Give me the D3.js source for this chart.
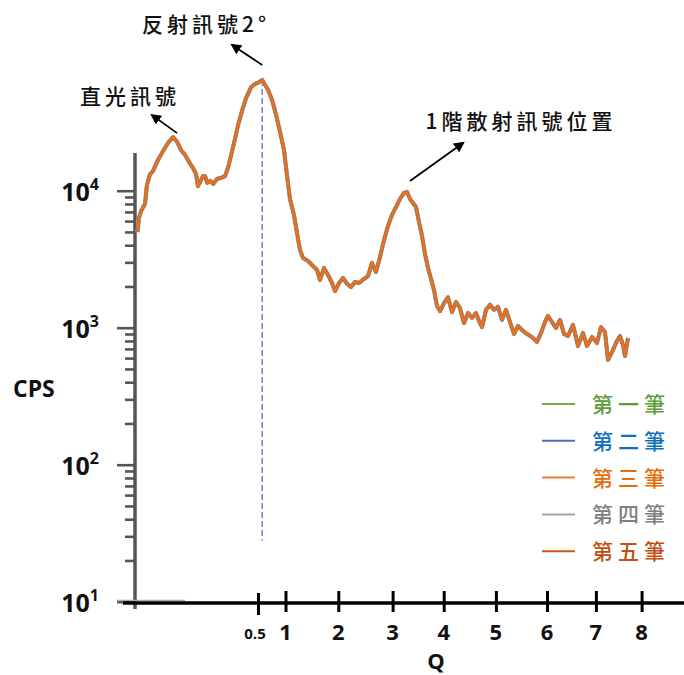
<!DOCTYPE html>
<html>
<head>
<meta charset="utf-8">
<script src="https://cdn.jsdelivr.net/npm/d3@7"></script>
<style>
  html, body { margin: 0; padding: 0; background: #fff; }
  svg { display: block; }
</style>
</head>
<body>
<svg id="chart" width="684" height="675"></svg>
<script>
// Scattering profile: scattering vector Q vs. counts per second (log scale)
const qValues = [
  0.002, 0.008, 0.017, 0.033, 0.041, 0.054, 0.066, 0.087, 0.108, 0.128,
  0.149, 0.166, 0.182, 0.199, 0.215, 0.232, 0.244, 0.252, 0.265, 0.273,
  0.281, 0.290, 0.302, 0.315, 0.331, 0.348, 0.364, 0.377, 0.389, 0.401,
  0.418, 0.435, 0.451, 0.472, 0.488, 0.522, 0.576, 0.630, 0.684, 0.756,
  0.829, 0.901, 0.973, 1.028, 1.085, 1.161, 1.218, 1.275, 1.331, 1.426,
  1.521, 1.597, 1.653, 1.729, 1.805, 1.881, 1.938, 2.013, 2.087, 2.160,
  2.234, 2.307, 2.381, 2.473, 2.547, 2.620, 2.694, 2.768, 2.842, 2.915,
  2.989, 3.067, 3.145, 3.223, 3.282, 3.341, 3.399, 3.458, 3.517, 3.576,
  3.634, 3.693, 3.752, 3.810, 3.869, 3.928, 4.006, 4.082, 4.159, 4.236,
  4.312, 4.389, 4.465, 4.542, 4.619, 4.676, 4.734, 4.810, 4.887, 4.964,
  5.041, 5.119, 5.198, 5.276, 5.354, 5.432, 5.511, 5.609, 5.706, 5.804,
  5.883, 5.961, 6.020, 6.102, 6.184, 6.266, 6.348, 6.429, 6.532, 6.634,
  6.736, 6.818, 6.920, 7.024, 7.112, 7.199, 7.265, 7.374, 7.462, 7.527,
  7.593, 7.637, 7.702
];
const cpsValues = [
  5000, 6320, 7110, 8000, 11000, 13200, 13900, 16800, 19500, 22300,
  24600, 22700, 19800, 18200, 16200, 14600, 13200, 10800, 12000, 12800,
  12800, 11400, 11800, 11200, 12200, 12400, 12800, 14900, 18200, 22300,
  30200, 38800, 47500, 57200, 60100, 62100, 64300, 59100, 54300, 45900,
  35700, 26800, 19800, 13000, 8700, 6650, 4910, 3690, 3230, 3070,
  2820, 2640, 2230, 2730, 2430, 2120, 1850, 2120, 2310, 2090,
  1980, 2160, 2120, 2270, 2380, 2970, 2550, 3280, 4370, 5530,
  6650, 7610, 8700, 9620, 9790, 8700, 8140, 7610, 5910, 4670,
  3450, 2730, 2270, 1880, 1440, 1320, 1510, 1670, 1300, 1540,
  1390, 1080, 1280, 1180, 1280, 1120, 1010, 1350, 1470, 1350,
  1420, 1140, 1350, 1100, 900, 1030, 962, 900, 855, 787,
  915, 1100, 1220, 1100, 995, 1140, 900, 870, 1050, 735,
  915, 735, 855, 773, 1010, 930, 582, 688, 802, 870,
  748, 621, 841
];

// five runs recorded; they coincide within line width
const seriesNames = ["第一筆", "第二筆", "第三筆", "第四筆", "第五筆"];
const seriesColors = ["#70ad47", "#4472c4", "#ed7d31", "#a5a5a5", "#c55a11"];
const legendTextColors = ["#5e9b3c", "#0f6fc0", "#e46c0a", "#808080", "#c0500f"];
const seriesValues = [cpsValues, cpsValues, cpsValues, cpsValues, cpsValues];

const xTickValues = [0.5, 1, 2, 3, 4, 5, 6, 7, 8];
const xTickLabels = ["0.5", "1", "2", "3", "4", "5", "6", "7", "8"];
const yMajorTicks = [10, 100, 1000, 10000];
const yTickExponents = ["1", "2", "3", "4"];

const reflectionPeakQ = 0.576;
const reflectionPeakCps = 64300;
const guideBottomCps = 28;

const annotations = [
  { text: "直光訊號", q: 0.149, cps: 24600 },
  { text: "反射訊號2°", q: 0.576, cps: 64300 },
  { text: "1階散射訊號位置", q: 3.282, cps: 9790 }
];

// ---- layout ----
const svg = d3.select("#chart");
const axisX = 135;
const axisY = 603;

// piecewise linear Q axis (origin at the vertical axis)
const x = d3.scaleLinear()
  .domain([0, 0.5, 1, 2, 3, 4, 5, 6, 7, 8])
  .range([137, 258, 285.5, 338.3, 392.6, 443.7, 495.9, 547, 595.9, 641.6]);
const y = d3.scaleLog().domain([10, 10000]).range([601.7, 190.7]);

const font = "'Open Sans', 'Liberation Sans', sans-serif";
const cjk = "'Noto Sans CJK TC', 'Noto Sans CJK SC', sans-serif";

// ---- y axis ----
const minorTicks = [];
[10, 100, 1000].forEach(d => { for (let k = 2; k <= 9; k++) minorTicks.push(d * k); });

svg.append("line")
  .attr("x1", axisX).attr("x2", axisX)
  .attr("y1", 153).attr("y2", 609)
  .attr("stroke", "#555").attr("stroke-width", 3.5);

const yMinor = svg.append("g").attr("transform", `translate(${axisX},0)`)
  .call(d3.axisLeft(y).tickValues(minorTicks).tickSize(10).tickFormat(""));
const yMajor = svg.append("g").attr("transform", `translate(${axisX},0)`)
  .call(d3.axisLeft(y).tickValues(yMajorTicks).tickSize(18).tickFormat(""));
[yMinor, yMajor].forEach(g => {
  g.select(".domain").remove();
  g.selectAll(".tick line").attr("stroke", "#555").attr("stroke-width", 2.6);
});

yMajorTicks.forEach((v, i) => {
  const t = svg.append("text")
    .attr("x", 99).attr("y", y(v) + 10)
    .attr("text-anchor", "end")
    .attr("font-family", font).attr("font-weight", "bold")
    .attr("font-size", 25).attr("fill", "#111");
  t.append("tspan").text("10");
  t.append("tspan").attr("dy", -11).attr("font-size", 16).text(yTickExponents[i]);
});

svg.append("text")
  .attr("x", 13).attr("y", 397)
  .attr("font-family", font).attr("font-weight", "bold")
  .attr("font-size", 23).attr("fill", "#111")
  .text("CPS");

// ---- x axis ----
svg.append("line")
  .attr("x1", 117).attr("x2", 185).attr("y1", 600.5).attr("y2", 600.5)
  .attr("stroke", "#aaa").attr("stroke-width", 1.5);
svg.append("line")
  .attr("x1", 123).attr("x2", 684).attr("y1", axisY).attr("y2", axisY)
  .attr("stroke", "#000").attr("stroke-width", 3.6);

const xAxis = svg.append("g").attr("transform", `translate(0,${axisY})`)
  .call(d3.axisBottom(x).tickValues(xTickValues).tickSize(0).tickFormat(""));
xAxis.select(".domain").remove();
xAxis.selectAll(".tick line")
  .attr("y1", d => d === 0.5 ? -10 : -12)
  .attr("y2", d => d === 0.5 ? 12 : 9)
  .attr("stroke", "#000").attr("stroke-width", 3);

xTickValues.forEach((v, i) => {
  const small = v === 0.5;
  svg.append("text")
    .attr("x", x(v) + (small ? -3 : 0))
    .attr("y", small ? 639 : 640)
    .attr("text-anchor", "middle")
    .attr("font-family", font).attr("font-weight", "bold")
    .attr("font-size", small ? 15 : 22).attr("fill", "#111")
    .text(xTickLabels[i]);
});

svg.append("text")
  .attr("x", 436).attr("y", 669)
  .attr("text-anchor", "middle")
  .attr("font-family", font).attr("font-weight", "bold")
  .attr("font-size", 22).attr("fill", "#111")
  .text("Q");

// ---- guide at the reflection peak ----
svg.append("line")
  .attr("x1", x(reflectionPeakQ)).attr("x2", x(reflectionPeakQ))
  .attr("y1", y(reflectionPeakCps)).attr("y2", y(guideBottomCps))
  .attr("stroke", "#6a60d6").attr("stroke-width", 1.3)
  .attr("stroke-dasharray", "6,3");

// ---- data lines ----
const line = d3.line()
  .x((d, i) => x(qValues[i]))
  .y(d => y(d))
  .curve(d3.curveLinear);

// draw order and widths so the overlapping runs blend as they do on screen
const drawOrder = [0, 1, 3, 4, 2];
const drawWidths = [3.6, 3.6, 2.2, 4.2, 3.2];
drawOrder.forEach(si => {
  svg.append("path")
    .datum(seriesValues[si])
    .attr("fill", "none")
    .attr("stroke", seriesColors[si])
    .attr("stroke-width", drawWidths[si])
    .attr("stroke-opacity", si === 2 ? 0.75 : 1)
    .attr("stroke-linejoin", "round")
    .attr("d", line);
});

// ---- annotations with arrows ----
const defs = svg.append("defs");
defs.append("marker")
  .attr("id", "arrow").attr("viewBox", "0 0 10 10")
  .attr("refX", 8).attr("refY", 5)
  .attr("markerWidth", 6).attr("markerHeight", 6)
  .attr("orient", "auto-start-reverse")
  .append("path").attr("d", "M0,0 L10,5 L0,10 z").attr("fill", "#000");

const arrowOffsets = [
  { from: [4, -4], to: [-21, -22] },
  { from: [0, -15], to: [-30, -35] },
  { from: [3, -11], to: [56, -49] }
];
const labelPos = [
  { x: 130, y: 104, anchor: "middle" },
  { x: 206, y: 32, anchor: "middle" },
  { x: 521, y: 129, anchor: "middle" }
];
annotations.forEach((a, i) => {
  const px = x(a.q), py = y(a.cps);
  const o = arrowOffsets[i];
  svg.append("line")
    .attr("x1", px + o.from[0]).attr("y1", py + o.from[1])
    .attr("x2", px + o.to[0]).attr("y2", py + o.to[1])
    .attr("stroke", "#000").attr("stroke-width", 1.8)
    .attr("marker-end", "url(#arrow)");
  svg.append("text")
    .attr("x", labelPos[i].x).attr("y", labelPos[i].y)
    .attr("text-anchor", labelPos[i].anchor)
    .attr("font-family", cjk).attr("font-weight", 500)
    .attr("font-size", 21).attr("letter-spacing", 4)
    .attr("fill", "#111")
    .text(a.text);
});

// ---- legend ----
const legend = svg.append("g").attr("transform", "translate(542,404)");
seriesNames.forEach((name, i) => {
  const g = legend.append("g").attr("transform", `translate(0,${i * 36.8})`);
  g.append("line").attr("x1", 0).attr("x2", 33).attr("y1", 0).attr("y2", 0)
    .attr("stroke", seriesColors[i]).attr("stroke-width", 2);
  g.append("text").attr("x", 50).attr("y", 8)
    .attr("font-family", cjk).attr("font-weight", 500)
    .attr("font-size", 21).attr("letter-spacing", 5)
    .attr("fill", legendTextColors[i])
    .text(name);
});
</script>
</body>
</html>
